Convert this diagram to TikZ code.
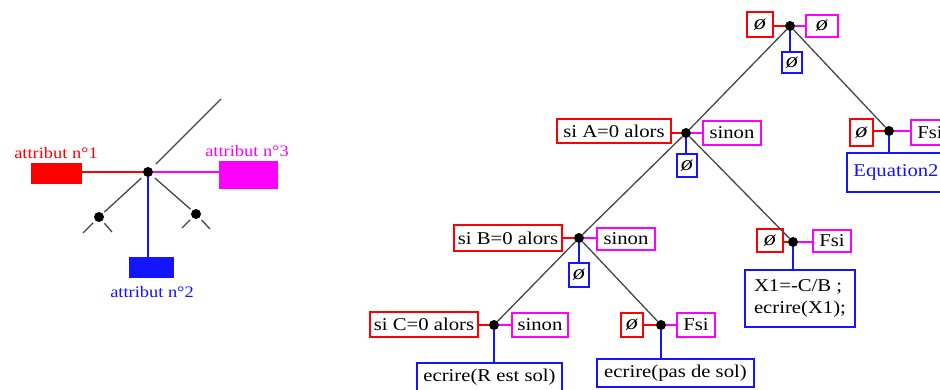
\documentclass[tikz,border=0pt]{standalone}
\usepackage{fontspec}
\setmainfont{Liberation Serif}[FakeStretch=1.15]
\definecolor{cred}{RGB}{255,0,0}
\definecolor{cmag}{RGB}{255,0,255}
\definecolor{cblue}{RGB}{20,20,255}
\definecolor{cgray}{RGB}{70,70,70}
\newcommand\vide{{\fontsize{21}{22}\selectfont\textit{ø}}}
\tikzset{
  box/.style={draw, line width=1.5pt, inner sep=0pt, font=\fontsize{18}{22}\selectfont, text=black},
  rbox/.style={box, draw=cred},
  mbox/.style={box, draw=cmag},
  bbox/.style={box, draw=cblue},
  sz/.style 2 args={minimum width=#1pt, minimum height=#2pt},
  dot/.style={circle, fill=black, inner sep=0pt, minimum size=10pt},
  gline/.style={cgray, line width=1.3pt},
  rl/.style={cred, line width=1.5pt},
  ml/.style={cmag, line width=1.5pt},
  bl/.style={cblue, line width=1.5pt},
  lbl/.style={inner sep=0pt, font=\fontsize{16}{18}\selectfont},
}
\begin{document}
\begin{tikzpicture}[x=1pt,y=-1pt]
\useasboundingbox (0,0) rectangle (940,390);
\clip (0,0) rectangle (940,390);
\fill[white] (0,0) rectangle (940,390);

% ---------------- left diagram ----------------
\node[dot] (L) at (148,172) {};
\node[dot] (dl) at (99,217) {};
\node[dot] (dr) at (196,214) {};
\coordinate (Ltop) at (221,99);
\coordinate (dlA) at (83,233);
\coordinate (dlB) at (112,232);
\coordinate (drA) at (182,228);
\coordinate (drB) at (210,229);
\node[fill=cred, inner sep=0pt, sz={51}{21}] (a1) at (56.5,173.5) {};
\node[fill=cmag, inner sep=0pt, sz={59}{28}] (a3) at (248.5,175) {};
\node[fill=cblue, inner sep=0pt, sz={45}{21}] (a2) at (151.5,267.5) {};
\node[lbl, text=cred] (t1) at (56,153) {attribut n°1};
\node[lbl, text=cmag] (t3) at (247,151) {attribut n°3};
\node[lbl, text=cblue] (t2) at (152,292) {attribut n°2};
\draw[gline, shorten <=6pt] (L) -- (Ltop);
\draw[gline, shorten <=4pt, shorten >=2pt] (L) -- (dl);
\draw[gline, shorten <=4pt, shorten >=2pt] (L) -- (dr);
\draw[gline, shorten <=3pt] (dl) -- (dlA);
\draw[gline, shorten <=3pt] (dl) -- (dlB);
\draw[gline, shorten <=3pt] (dr) -- (drA);
\draw[gline, shorten <=3pt] (dr) -- (drB);
\draw[rl] (L) -- (L -| a1.east);
\draw[ml] (L) -- (L -| a3.west);
\draw[bl] (L) -- (L |- a2.north);

% ---------------- right tree ----------------
% root
\node[dot] (T) at (790,26) {};
\node[rbox, sz={26}{25}] (r0) at (760,24.5) {\vide};
\node[mbox, sz={32}{22}] (m0) at (822,26) {\vide};
\node[bbox, sz={20}{21}] (b0) at (792,62.5) {\vide};
% A
\node[dot] (A) at (686,133) {};
\node[rbox, sz={114}{24}] (rA) at (614,131) {si A=0 alors};
\node[mbox, sz={58}{24}] (mA) at (732,133) {sinon};
\node[bbox, sz={20}{23}] (bA) at (687,165.5) {\vide};
% R1
\node[dot] (R1) at (889,131) {};
\node[rbox, sz={23}{27}] (rR1) at (861.5,132.5) {\vide};
\node[mbox, sz={38}{25}] (mR1) at (930,132.5) {Fsi};
\node[bbox, sz={104}{39}, text=cblue] (bR1) at (899,172.5) {\hspace*{-6pt}Equation2};
% B
\node[dot] (B) at (579,238) {};
\node[rbox, sz={108}{26}] (rB) at (508,238) {si B=0 alors};
\node[mbox, sz={58}{22}] (mB) at (626,239) {sinon};
\node[bbox, sz={20}{24}] (bB) at (579,275) {\vide};
% R2
\node[dot] (R2) at (793,242) {};
\node[rbox, sz={26}{23}] (rR2) at (770,240.5) {\vide};
\node[mbox, sz={38}{22}] (mR2) at (832,241) {Fsi};
\node[bbox, sz={110}{57}, align=left] (bR2) at (800,298.5) {X1=-C/B ;\\ecrire(X1);};
% C
\node[dot] (C) at (494,325) {};
\node[rbox, sz={108}{25}] (rC) at (424,324.5) {si C=0 alors};
\node[mbox, sz={56}{24}] (mC) at (540,325) {sinon};
\node[bbox, sz={145}{29}] (bC) at (489.5,377.5) {ecrire(R est sol)};
% R3
\node[dot] (R3) at (661,325) {};
\node[rbox, sz={22}{24}] (rR3) at (632,325) {\vide};
\node[mbox, sz={38}{24}] (mR3) at (696,325) {Fsi};
\node[bbox, sz={157}{28}] (bR3) at (675.5,373) {ecrire(pas de sol)};

% tree edges
\draw[gline] (T) -- (A);
\draw[gline] (T) -- (R1);
\draw[gline] (A) -- (B);
\draw[gline] (A) -- (R2);
\draw[gline] (B) -- (C);
\draw[gline] (B) -- (R3);

% attribute links
\foreach \d/\r/\m/\b in {T/r0/m0/b0, A/rA/mA/bA, R1/rR1/mR1/bR1, B/rB/mB/bB, R2/rR2/mR2/bR2, C/rC/mC/bC, R3/rR3/mR3/bR3}{
  \draw[rl] (\d) -- (\d -| \r.east);
  \draw[ml] (\d) -- (\d -| \m.west);
  \draw[bl] (\d) -- (\d |- \b.north);
}
\end{tikzpicture}
\end{document}
